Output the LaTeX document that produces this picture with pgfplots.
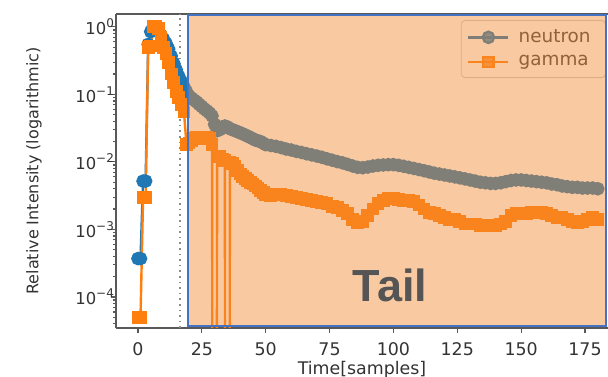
\documentclass[border=0pt]{standalone}
\usepackage{fontspec}
\setmainfont{DejaVu Sans}
\newfontfamily\tailfont{Liberation Sans}
\usepackage{pgfplots}
\pgfplotsset{compat=1.18}
\usepackage{pgfplotstable}
\definecolor{nblue}{RGB}{31,119,180}
\definecolor{gorange}{RGB}{255,127,14}
\definecolor{ovcol}{RGB}{242,138,51}
\definecolor{rectblue}{RGB}{68,114,196}
\definecolor{tailgray}{RGB}{85,85,85}
\newcommand{\tpow}[1]{10\raisebox{0.42em}{\fontsize{6}{6}\selectfont #1}}

\pgfplotstableread{
x y
0 3.7e-4
1 3.7e-4
2 5.2e-3
3 5.2e-3
4 0.55
5 0.85
6 1.0
7 0.95
8 0.85
9 0.75
10 0.66
11 0.57
12 0.47
13 0.37
14 0.29
15 0.23
16 0.185
17 0.155
18 0.13
19 0.11
20 0.095
21 0.088
22 0.082
23 0.077
24 0.071
25 0.066
26 0.061
27 0.057
28 0.053
29 0.048
30 0.036
31 0.029
32 0.030
33 0.033
34 0.034
35 0.033
36 0.031
37 0.030
38 0.029
39 0.028
40 0.027
41 0.026
42 0.025
43 0.024
44 0.023
45 0.022
46 0.021
47 0.0205
48 0.020
49 0.019
50 0.018
52 0.0175
54 0.017
56 0.0163
58 0.0155
60 0.015
62 0.0143
64 0.0138
66 0.0132
68 0.0127
70 0.0122
72 0.0117
74 0.0111
76 0.0106
78 0.0101
80 0.0097
82 0.0092
84 0.0087
86 0.0083
88 0.0082
90 0.0084
92 0.0087
94 0.0089
96 0.0090
98 0.0091
100 0.0091
102 0.0089
104 0.0086
106 0.0083
108 0.0080
110 0.0077
112 0.0074
114 0.0071
116 0.0068
118 0.0066
120 0.0064
122 0.0062
124 0.0060
126 0.0058
128 0.0056
130 0.0054
132 0.0052
134 0.0050
136 0.0049
138 0.0048
140 0.0048
142 0.0049
144 0.0051
146 0.0053
148 0.0054
150 0.0054
152 0.0053
154 0.0052
156 0.0051
158 0.0050
160 0.0049
162 0.0047
164 0.0046
166 0.0044
168 0.0043
170 0.0042
172 0.0042
174 0.0041
176 0.0041
178 0.0041
180 0.0040
}\neutrondata

\pgfplotstableread{
x y
0 5e-5
1 5e-5
2 3e-3
3 3e-3
4 0.5
5 0.52
6 1.0
7 1.0
8 0.95
9 0.7
10 0.5
11 0.4
12 0.3
13 0.2
14 0.15
15 0.11
16 0.09
17 0.07
18 0.055
19 0.018
20 0.019
21 0.021
22 0.022
23 0.023
24 0.023
25 0.022
26 0.022
27 0.023
28 0.022
29 0.018
30 1e-30
31 0.012
32 0.012
33 0.011
34 0.0105
35 1e-30
36 0.0098
37 0.0094
38 0.0085
39 0.0074
40 0.0066
41 0.0061
42 0.0057
43 0.0053
44 0.0050
45 0.0047
46 0.0044
47 0.0041
48 0.0038
49 0.0035
50 0.0033
52 0.0032
54 0.0033
56 0.0033
58 0.0032
60 0.0031
62 0.0030
64 0.0029
66 0.0028
68 0.0027
70 0.0026
72 0.0025
74 0.0024
76 0.0022
78 0.0021
80 0.0019
82 0.0017
84 0.0014
86 0.00125
88 0.0013
90 0.0016
92 0.0020
94 0.0024
96 0.0027
98 0.0029
100 0.0029
102 0.0028
104 0.0027
106 0.0027
108 0.0026
110 0.0023
112 0.0020
114 0.0018
116 0.0017
118 0.0016
120 0.0015
122 0.0014
124 0.0014
126 0.0013
128 0.0012
130 0.0012
132 0.0012
134 0.00115
136 0.00115
138 0.00115
140 0.00115
142 0.0012
144 0.0013
146 0.0016
148 0.0017
150 0.0017
152 0.0017
154 0.0018
156 0.0018
158 0.0018
160 0.0017
162 0.0016
164 0.0015
166 0.0015
168 0.0014
170 0.0013
172 0.00125
174 0.0013
176 0.0014
178 0.0015
180 0.0014
}\gammadata

\begin{document}
\begin{tikzpicture}
\begin{axis}[
  name=ax,
  scale only axis,
  width=246pt, height=157pt,
  ymode=log,
  xmin=-8.6, xmax=184,
  ymin=3.47e-5, ymax=1.55,
  axis x line*=box, axis y line*=left,
  axis line style={black!65, line width=0.8pt},
  xtick={0,25,50,75,100,125,150,175},
  ytick={1e-4,1e-3,1e-2,1e-1,1},
  yticklabels={\tpow{−4},\tpow{−3},\tpow{−2},\tpow{−1},\tpow{0}},
  minor ytick={4e-5,5e-5,6e-5,7e-5,8e-5,9e-5,2e-4,3e-4,4e-4,5e-4,6e-4,7e-4,8e-4,9e-4,2e-3,3e-3,4e-3,5e-3,6e-3,7e-3,8e-3,9e-3,2e-2,3e-2,4e-2,5e-2,6e-2,7e-2,8e-2,9e-2,0.2,0.3,0.4,0.5,0.6,0.7,0.8,0.9},
  xtick pos=bottom, ytick pos=left,
  tick align=outside,
  major tick length=2.5pt, minor tick length=1.5pt,
  tick style={black!65, line width=0.6pt},
  /pgf/number format/assume math mode=true,
  ticklabel style={font=\fontsize{8.7}{10}\selectfont, text=black!80},
  yticklabel style={xshift=5pt, font=\fontsize{8.2}{10}\selectfont},
  xticklabel style={yshift=-1.5pt},
  xlabel={Time[samples]},
  ylabel={Relative Intensity (logarithmic)},
  xlabel style={at={(rel axis cs:0.5,-0.133)}, anchor=center, font=\fontsize{8.7}{10}\selectfont, text=black!80},
  ylabel style={at={(rel axis cs:-0.1667,0.5)}, anchor=center, font=\fontsize{8}{10}\selectfont, text=black!80},
  legend style={at={(rel axis cs:1,1)}, anchor=north east, xshift=-1pt, yshift=-3pt,
    draw=black!20, fill=white, fill opacity=0.8, text opacity=1, rounded corners=2pt,
    font=\fontsize{9.2}{10}\selectfont, text=black!75, row sep=1pt, inner xsep=3pt, inner ysep=2.5pt,
    nodes={inner xsep=4.5pt}},
  legend cell align=left,
  legend image code/.code={\draw[mark repeat=2,mark phase=2] plot coordinates {(0pt,0pt) (10pt,0pt) (20pt,0pt)};},
  clip mode=global,
]
\addplot[nblue, line width=1.2pt, mark=*, mark size=2.8pt, mark options={solid}] table[x=x,y=y] {\neutrondata};
\addlegendentry{neutron}
\addplot[gorange, line width=1.2pt, mark=square*, mark size=2.6pt, mark options={solid}] table[x=x,y=y] {\gammadata};
\addlegendentry{gamma}
\draw[black!45, dotted, line width=0.8pt] (axis cs:16.5,3.47e-5) -- (axis cs:16.5,1.55);
\coordinate (ovBL) at (axis cs:19.6,3.47e-5);
\coordinate (ovTR) at (rel axis cs:1,1);
\coordinate (tailpos) at (rel axis cs:0.557,0.137);
\end{axis}
\fill[ovcol, opacity=0.46] ([yshift=0.8pt]ovBL) rectangle ([xshift=-1pt,yshift=-0.5pt]ovTR);
\draw[rectblue, line width=0.9pt] ([yshift=0.8pt]ovBL) rectangle ([xshift=-1pt,yshift=-0.5pt]ovTR);
\node[font=\tailfont\bfseries\fontsize{22.5}{24}\selectfont, text=tailgray] at (tailpos) {Tail};
\pgfresetboundingbox
\path[use as bounding box] ([xshift=-58pt,yshift=-24.5pt]ax.south west) rectangle ([yshift=7pt]ax.north east);
\end{tikzpicture}
\end{document}
